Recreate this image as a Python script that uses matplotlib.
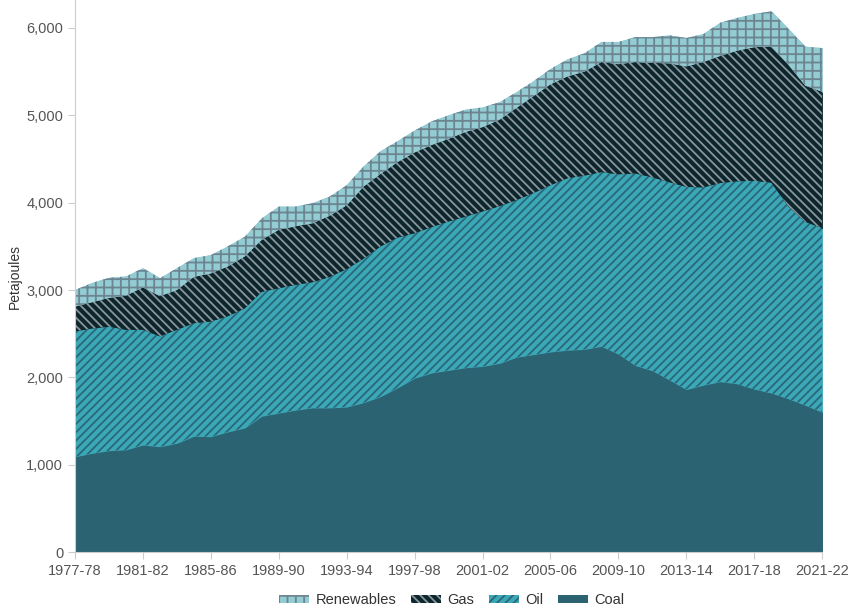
import matplotlib.pyplot as plt

# Financial years 1977-78 to 2021-22
years = ['%d-%02d' % (y, (y + 1) % 100) for y in range(1977, 2022)]

# Energy consumption by fuel, petajoules
coal = [1090, 1130, 1160, 1170, 1225, 1205, 1245, 1325, 1320, 1375, 1420,
        1555, 1590, 1625, 1650, 1650, 1660, 1710, 1780, 1880, 1990, 2050,
        2080, 2110, 2125, 2160, 2230, 2260, 2290, 2310, 2320, 2355, 2265,
        2135, 2075, 1970, 1860, 1910, 1950, 1925, 1865, 1820, 1755, 1680, 1600]
oil = [1435, 1430, 1420, 1375, 1320, 1265, 1300, 1295, 1320, 1325, 1370,
       1425, 1430, 1435, 1440, 1500, 1580, 1650, 1720, 1720, 1660, 1670,
       1705, 1730, 1775, 1800, 1800, 1850, 1910, 1970, 1990, 1995, 2060,
       2200, 2215, 2265, 2320, 2265, 2275, 2320, 2385, 2410, 2205, 2100, 2110]
gas = [285, 300, 330, 390, 485, 460, 455, 530, 550, 570, 595,
       595, 670, 670, 675, 700, 730, 825, 830, 865, 925, 940,
       945, 970, 965, 990, 1055, 1110, 1155, 1165, 1190, 1260, 1260,
       1275, 1310, 1360, 1380, 1435, 1455, 1495, 1530, 1560, 1620, 1560, 1560]
renewables = [190, 220, 230, 220, 220, 205, 250, 215, 210, 230, 225,
              245, 265, 225, 230, 220, 230, 230, 260, 240, 250, 270,
              270, 255, 225, 200, 180, 170, 175, 195, 210, 230, 255,
              285, 295, 320, 325, 320, 380, 375, 380, 400, 410, 445, 500]

labels = ['Coal', 'Oil', 'Gas', 'Renewables']
faces = ['#2c6373', '#3ba8b8', '#0d262d', '#94ccd3']
hatch_cols = ['#2c6373', '#2a6877', '#8a969b', '#6c8591']
hatches = [None, '////', '\\\\\\\\', '++']

plt.rcParams['font.family'] = ['Liberation Sans', 'DejaVu Sans']
plt.rcParams['hatch.linewidth'] = 1.3

fig = plt.figure(figsize=(8.52, 6.06), dpi=100)
ax = fig.add_axes([0.088, 0.089, 0.877, 0.911])

x = list(range(len(years)))
# solid base layer (edges in face colour to hide seams), then hatched overlay
base = ax.stackplot(x, coal, oil, gas, renewables, colors=faces)
for p, fc in zip(base, faces):
    p.set_edgecolor(fc)
    p.set_linewidth(0.6)
polys = ax.stackplot(x, coal, oil, gas, renewables, labels=labels, colors=faces)
for p, h, hc in zip(polys, hatches, hatch_cols):
    p.set_edgecolor(hc)
    p.set_linewidth(0)
    if h:
        p.set_hatch(h)

ax.set_xlim(0, len(years) - 1)
ax.set_ylim(0, 6320)
ax.set_xticks(x[::4])
ax.set_xticklabels(years[::4])
ax.set_yticks(range(0, 6001, 1000))
ax.set_yticklabels(['{:,}'.format(v) for v in range(0, 6001, 1000)])
ax.set_ylabel('Petajoules', fontsize=10, color='#333333', labelpad=3)

for s in ['top', 'right']:
    ax.spines[s].set_visible(False)
for s in ['left', 'bottom']:
    ax.spines[s].set_color('#cccccc')
ax.tick_params(colors='#cccccc', labelcolor='#555555', labelsize=10.5, length=5)

handles, labs = ax.get_legend_handles_labels()
fig.legend(handles[::-1], labs[::-1], loc='lower center', ncol=4, frameon=False,
           fontsize=10.5, bbox_to_anchor=(0.53, -0.024), handlelength=2.1,
           handleheight=0.5, columnspacing=1.0, handletextpad=0.4,
           labelcolor='#333333')

fig.savefig('out.png', dpi=100)
